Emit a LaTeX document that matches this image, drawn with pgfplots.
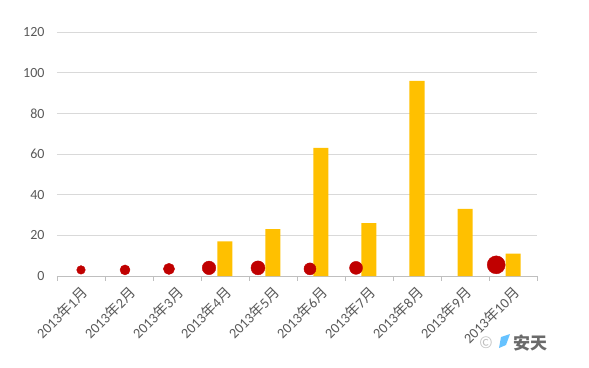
\documentclass[border=0pt]{standalone}
\usepackage{pgfplots}
\pgfplotsset{compat=1.18}
\usetikzlibrary{calc}
\usepackage{fontspec}
\setmainfont{Carlito}
\newfontfamily\cjk{Noto Sans CJK SC}
\definecolor{gridc}{HTML}{D9D9D9}
\definecolor{axc}{HTML}{BFBFBF}
\definecolor{txt}{HTML}{595959}
\definecolor{barc}{HTML}{FFC000}
\definecolor{bubc}{HTML}{C00000}
\newcommand{\ym}[1]{2013{\cjk 年}#1{\cjk 月}}
\begin{document}
\begin{tikzpicture}[x=1pt,y=1pt]
\begin{axis}[
  scale only axis, width=480pt, height=244pt,
  xmin=-0.5, xmax=9.5, ymin=0, ymax=120,
  axis x line*=bottom, axis y line*=left,
  x axis line style={draw=axc, line width=0.8pt},
  y axis line style={draw=none},
  ytick={0,20,...,120},
  ymajorgrids, grid style={draw=gridc, line width=0.8pt},
  ytick style={draw=none},
  xtick={0,...,9},
  xticklabels={\ym{1},\ym{2},\ym{3},\ym{4},\ym{5},\ym{6},\ym{7},\ym{8},\ym{9},\ym{10}},
  xtick style={draw=none},
  xticklabel style={xshift=-1pt, yshift=-9pt, rotate=45, anchor=north east, font=\fontsize{14.3}{15}\selectfont, text=txt, inner sep=0pt},
  yticklabel style={font=\fontsize{14}{15}\selectfont, text=txt, xshift=-9pt},
  /pgf/number format/assume math mode=true,
  clip=false,
]
\addplot[ybar, bar width=15pt, fill=barc, draw=none, bar shift=0pt]
  coordinates {(3,17) (4,23) (5,63) (6,26) (7,96) (8,33) (9,11)};
\addplot[scatter, only marks, mark=*,
  scatter/use mapped color={draw=bubc, fill=bubc},
  visualization depends on={\thisrow{r} \as \perpointmarksize},
  scatter/@pre marker code/.append style={/tikz/mark size=\perpointmarksize}]
  table[x=x, y=y] {
  x     y    r
  0     3    4.3
  0.917 3    5
  1.833 3.5  5.6
  2.667 4    6.8
  3.687 4    7
  4.77  3.5  6
  5.73  4    6.5
  8.65  5.5  9
  };
\pgfplotsinvokeforeach{-0.5,0.5,1.5,2.5,3.5,4.5,5.5,6.5,7.5,8.5,9.5}{
  \draw[axc, line width=0.8pt] (axis cs:#1,0) -- ([yshift=-5pt]axis cs:#1,0);
}
\coordinate (sw) at (rel axis cs:0,0);
\coordinate (ne) at (rel axis cs:1,1);
\end{axis}
\node[text=axc, font=\fontsize{16}{16}\selectfont, anchor=center] at ($(ne|-sw)+(-51pt,-67pt)$) {\cjk ©};
\fill[blue!40!cyan!60] ($(ne|-sw)+(-36pt,-61pt)$) -- ($(ne|-sw)+(-27pt,-58pt)$) -- ($(ne|-sw)+(-31pt,-69pt)$) -- ($(ne|-sw)+(-38pt,-72pt)$) -- cycle;
\node[text=txt!90, font=\fontsize{17}{17}\selectfont\bfseries\cjk, anchor=center] at ($(ne|-sw)+(-7pt,-67pt)$) {安天};
\useasboundingbox ($(sw)+(-57pt,-91pt)$) rectangle ($(ne)+(52pt,32pt)$);
\end{tikzpicture}
\end{document}
